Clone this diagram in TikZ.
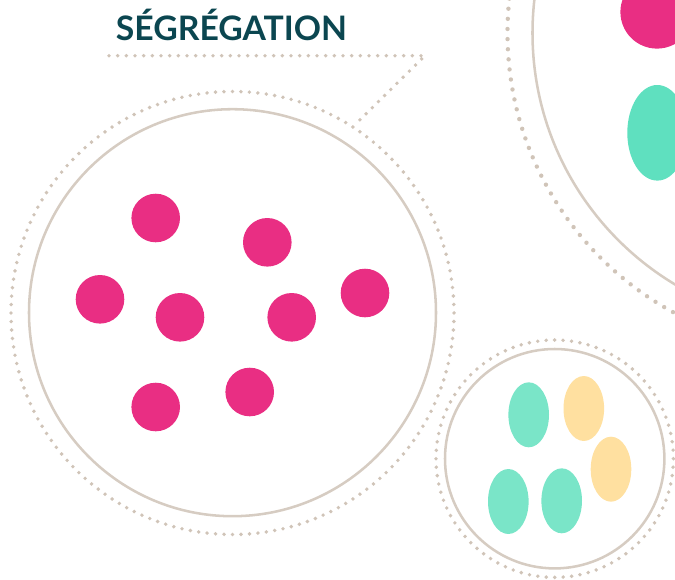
\documentclass[tikz,border=0pt]{standalone}
\usepackage{fontspec}
\setmainfont{Lato}
\begin{document}
\begin{tikzpicture}[x=0.75pt,y=-0.75pt,
  ringline/.style={draw=ringc, line width=1.9pt},
  dotring/.style={draw=dotc, line width=2.9pt, line cap=round, dash pattern=on 0pt off #1},
  dotring/.default=6.36pt,
  pinkdot/.style={fill=pinkc, draw=none},
  tealdot/.style={fill=tealc, draw=none},
  tealdark/.style={fill=tealdk, draw=none},
  yellowdot/.style={fill=yellowc, draw=none},
  titlestyle/.style={text=titlec, font=\fontsize{25.3}{30}\selectfont\bfseries, inner sep=0pt, anchor=base west}
]
\definecolor{ringc}{HTML}{D6CCC2}
\definecolor{dotc}{HTML}{D0C4B8}
\definecolor{pinkc}{HTML}{E92E83}
\definecolor{tealc}{HTML}{7AE5C8}
\definecolor{tealdk}{HTML}{5FE0BF}
\definecolor{yellowc}{HTML}{FFE0A0}
\definecolor{titlec}{HTML}{0B4650}
\useasboundingbox (0,0) rectangle (675,579);
\begin{scope}
\clip (0,0) rectangle (675,579);
% title
\node[titlestyle] (title) at (115.7,40.7) {SÉGRÉGATION};
% callout dotted line
\coordinate (la) at (109,55.7);
\coordinate (lb) at (425,55.7);
\coordinate (lc) at (356.7,123);
\draw[dotring=6.5pt] (la) -- (lb) -- (lc);
% left circle
\draw[ringline] (232.5,312.7) circle[radius=203.5];
\draw[dotring=6.365pt] (232.5,313) circle[radius=221.5];
\foreach \px/\py [count=\i] in {155.7/218, 267.3/242.3, 100/299.3, 180/317.3, 291.7/317.3, 365/293, 155.7/407, 249.7/392}
  \fill[pinkdot] (\px,\py) circle[radius=24.3];
% top right circle
\draw[ringline] (825.5,33) circle[radius=293];
\draw[dotring=7.6pt, line width=3.3pt] (825.5,33) circle[radius=318];
\fill[pinkdot] (657,12) circle[radius=36.6];
\fill[tealdark] (657.3,132.8) ellipse[x radius=30, y radius=47.8];
% bottom right circle
\draw[ringline] (554.7,458.7) circle[radius=109.7];
\draw[dotring=6.356pt] (554.7,458.7) circle[radius=118.7];
\fill[tealdot] (528.7,414.8) ellipse[x radius=20.3, y radius=32.5];
\fill[yellowdot] (583.8,408.5) ellipse[x radius=20.3, y radius=32.5];
\fill[yellowdot] (611,469.2) ellipse[x radius=20.3, y radius=32.5];
\fill[tealdot] (508.3,501.5) ellipse[x radius=20.3, y radius=32.5];
\fill[tealdot] (561.7,500.8) ellipse[x radius=20.3, y radius=32.5];
\end{scope}
\end{tikzpicture}
\end{document}
